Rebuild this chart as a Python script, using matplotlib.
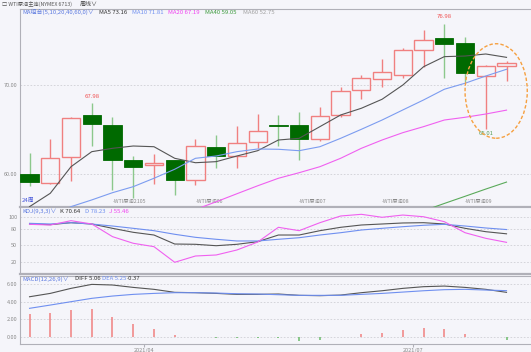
'''
WTI crude weekly chart with MA, KDJ and MACD panels
'''
import numpy as np
import matplotlib.pyplot as plt
from matplotlib.patches import Rectangle, Ellipse
import matplotlib.transforms as mtransforms

plt.rcParams['font.family'] = ['Noto Sans CJK SC', 'DejaVu Sans']

nan = np.nan

# weekly candles
opens = [60.0, 58.9, 61.9, 66.6, 65.5, 61.5, 60.95, 61.5, 59.3, 63.0, 62.0, 63.6,
         65.55, 65.5, 63.9, 66.6, 69.5, 70.7, 71.2, 74.0, 75.3, 74.75, 71.05, 72.2]
closes = [59.05, 61.75, 66.3, 65.6, 61.5, 60.8, 61.25, 59.3, 63.1, 62.0, 63.45, 64.8,
          65.45, 63.9, 66.55, 69.35, 70.8, 71.45, 74.0, 75.1, 74.65, 71.4, 72.2, 72.5]
highs = [62.3, 63.9, 66.4, 67.98, 66.4, 62.0, 62.2, 61.5, 63.9, 64.4, 65.4, 66.75,
         66.6, 67.0, 67.5, 69.8, 71.2, 72.95, 74.2, 76.3, 76.98, 75.5, 72.3, 72.7]
lows = [58.6, 58.8, 59.2, 63.1, 58.2, 57.2, 58.8, 57.6, 58.7, 60.6, 60.6, 62.9,
        63.1, 61.5, 63.7, 66.4, 68.45, 69.8, 70.8, 72.1, 70.8, 70.4, 65.01, 70.5]

ma5 = [56.27, 57.78, 60.79, 62.49, 62.87, 63.13, 63.05, 61.74, 61.24, 61.36, 62.0, 62.6,
       63.81, 64.0, 65.32, 66.64, 67.4, 68.42, 70.03, 72.1, 73.24, 73.31, 73.54, 73.16]
ma10 = [nan, 55.0, 56.27, 57.03, 57.85, 58.53, 59.48, 60.5, 61.74, 62.0, 62.49, 62.79,
        62.76, 62.6, 63.05, 64.0, 65.02, 66.07, 67.21, 68.34, 69.55, 70.23, 71.05, 71.81]
ma20 = [nan] * 8 + [55.95, 56.82, 57.73, 58.63, 59.48, 60.11, 60.79, 61.74, 62.87,
                    63.81, 64.64, 65.32, 66.07, 66.38, 66.75, 67.19]
ma40 = [nan] * 19 + [55.8, 56.63, 57.44, 58.26, 59.05]

k_vals = [88.1, 86.9, 90.4, 88.1, 80.4, 73.3, 68.5, 52.5, 52.0, 49.5, 52.0, 56.6,
          68.5, 68.5, 76.2, 82.2, 86.3, 88.1, 89.9, 90.4, 88.1, 80.4, 74.4, 70.64]
d_vals = [89.3, 88.1, 90.4, 88.0, 84.5, 80.4, 76.2, 69.8, 64.4, 60.9, 57.9, 57.9,
          60.9, 63.7, 68.5, 72.6, 77.4, 80.4, 83.3, 85.8, 87.5, 84.5, 81.0, 78.23]
j_vals = [87.5, 86.3, 94.0, 88.1, 65.6, 53.8, 47.8, 20.0, 31.2, 33.0, 41.9, 56.0,
          82.2, 76.2, 90.4, 102.3, 105.3, 100.0, 104.0, 101.0, 92.2, 72.6, 62.6, 55.46]

diff_vals = [4.56, 4.94, 5.51, 5.96, 5.89, 5.62, 5.4, 5.06, 5.02, 4.94, 4.83, 4.83,
             4.87, 4.72, 4.68, 4.75, 5.02, 5.24, 5.51, 5.7, 5.77, 5.62, 5.4, 5.06]
dea_vals = [3.25, 3.62, 4.0, 4.38, 4.64, 4.83, 4.94, 5.02, 5.02, 4.98, 4.9, 4.87,
            4.79, 4.72, 4.72, 4.72, 4.83, 4.94, 5.09, 5.24, 5.36, 5.4, 5.32, 5.25]
macd_hist = [2.6, 2.75, 3.06, 3.13, 2.3, 1.47, 0.87, 0.26, 0.02, -0.1, -0.15, -0.12,
             -0.1, -0.4, -0.3, -0.02, 0.3, 0.5, 0.8, 1.05, 0.9, 0.3, 0.02, -0.37]

contract_idx = [4, 8, 13, 17, 21]
contract_labels = ['-WTI原油2105', '-WTI原油06', '-WTI原油07', '-WTI原油08', '-WTI原油09']
date_pos = [5.5, 18.5]
date_labels = ['2021/04', '2021/07']

BG = '#F5F5FA'
RED = '#F08080'
GREEN = '#006A00'
GREEN_WICK = '#8CC88C'
GRID = '#CFCFD6'
AXC = '#B0B0B8'
TXT = '#8A8A8A'

x = np.arange(len(opens))

fig = plt.figure(figsize=(5.31, 3.52), dpi=100, facecolor=BG)
ax1 = fig.add_axes([20 / 531, 1 - 207 / 352, 511 / 531, 198 / 352], facecolor=BG)
ax2 = fig.add_axes([20 / 531, 1 - 274 / 352, 511 / 531, 67 / 352], facecolor=BG)
ax3 = fig.add_axes([20 / 531, 1 - 344 / 352, 511 / 531, 68 / 352], facecolor=BG)

for ax in (ax1, ax2, ax3):
    ax.set_xlim(-0.46, 24.18)
    for s in ('right',):
        ax.spines[s].set_visible(False)
    for s in ('left', 'top', 'bottom'):
        ax.spines[s].set_color(AXC)
        ax.spines[s].set_linewidth(0.8)
    ax.tick_params(axis='y', length=0, labelsize=4, labelcolor=TXT, pad=2)
    ax.tick_params(axis='x', length=0)
    ax.set_xticks([])
ax1.spines['bottom'].set_linewidth(1.6)
ax2.spines['bottom'].set_linewidth(1.6)

# candles
w = 0.88
for i in range(len(opens)):
    o, c, h, l = opens[i], closes[i], highs[i], lows[i]
    top, bot = max(o, c), min(o, c)
    if c >= o:
        ax1.vlines(i, top, h, color=RED, lw=1, zorder=2)
        ax1.vlines(i, l, bot, color=RED, lw=1, zorder=2)
        ax1.add_patch(Rectangle((i - w / 2, bot), w, max(top - bot, 0.08),
                                facecolor='none', edgecolor=RED, lw=1, zorder=3))
    else:
        ax1.vlines(i, l, h, color=GREEN_WICK, lw=1, zorder=2)
        ax1.add_patch(Rectangle((i - w / 2, bot), w, max(top - bot, 0.1),
                                facecolor=GREEN, edgecolor=GREEN, lw=0.6, zorder=3))

ax1.plot(x, ma5, color='#555555', lw=0.8, zorder=4)
ax1.plot(x, ma10, color='#7C9CF0', lw=0.8, zorder=4)
ax1.plot(x, ma20, color='#F060F0', lw=0.8, zorder=4)
ax1.plot(x, ma40, color='#5AAA5A', lw=0.8, zorder=4)
ax1.set_ylim(56.23, 78.63)
ax1.set_yticks([60, 70])
ax1.set_yticklabels(['60.00', '70.00'])
for v in (60, 70):
    ax1.axhline(v, color=GRID, lw=0.6, ls=(0, (2, 2)), zorder=1)

# high / low marks
hi = int(np.argmax(highs[:8]))
ax1.annotate(f'{highs[hi]:.2f}', (hi, highs[hi]), xytext=(0, 3), textcoords='offset points',
             ha='center', va='bottom', fontsize=4.3, color='#F05050')
hi2 = int(np.argmax(highs))
ax1.annotate(f'{highs[hi2]:.2f}', (hi2, highs[hi2]), xytext=(0, 3), textcoords='offset points',
             ha='center', va='bottom', fontsize=4.3, color='#F05050')
lo = len(lows) - 2
ax1.annotate(f'{lows[lo]:.2f}', (lo, lows[lo]), xytext=(0, -1), textcoords='offset points',
             ha='center', va='top', fontsize=4.3, color='#5AA05A')

# highlight ellipse around the last two weeks
yc = (max(highs[-2:]) + min(lows[-2:])) / 2 + 0.5
hgt = max(highs[-2:]) - min(lows[-2:]) + 3
ax1.add_patch(Ellipse((len(x) - 1.5, yc), 3.0, hgt, fill=False, edgecolor='#F5A040',
                      lw=1, ls=(0, (2.5, 1.5)), zorder=6))

trans = mtransforms.blended_transform_factory(ax1.transData, ax1.transAxes)
for i, lab in zip(contract_idx, contract_labels):
    ax1.text(i, 0.03, lab, transform=trans, fontsize=3.8, color=TXT, va='center', ha='left')
ax1.text(0.003, 0.035, '24周', transform=ax1.transAxes, fontsize=4.3, color='#4A5ADA', va='center')

# title and legend rows
fig.text(0.004, 1 - 4 / 352, '□ WTI原油主连(NYMEX 6713)', fontsize=3.8, color='#555555', va='center')
fig.text(80 / 531, 1 - 4 / 352, '周线∨', fontsize=4.3, color='#444444', va='center')
legend_main = [('MA组合(5,10,20,40,60,0)∨', '#5A78E0', 22), ('MA5 73.16', '#333333', 99),
               ('MA10 71.81', '#6F8FF0', 132), ('MA20 67.19', '#F040F0', 168),
               ('MA40 59.05', '#3A9A3A', 205), ('MA60 52.75', '#A0A0A0', 243)]
for t, col, px in legend_main:
    fig.text(px / 531, 1 - 12 / 352, t, fontsize=4.3, color=col, va='center')

# KDJ
ax2.plot(x, k_vals, color='#555555', lw=0.8)
ax2.plot(x, d_vals, color='#6F8FF0', lw=0.8)
ax2.plot(x, j_vals, color='#F060F0', lw=0.8)
ax2.set_ylim(-0.8, 118.3)
ax2.set_yticks([20, 50, 80, 100])
ax2.set_yticklabels(['20', '50', '80', '100'])
for v in (20, 50, 80, 100):
    ax2.axhline(v, color=GRID, lw=0.6, ls=(0, (2, 2)), zorder=0)
legend_kdj = [('KDJ(9,3,3)∨', '#5A78E0', 22), ('K 70.64', '#333333', 60),
              ('D 78.23', '#6F8FF0', 85), ('J 55.46', '#F040F0', 109)]
for t, col, px in legend_kdj:
    fig.text(px / 531, 1 - 211 / 352, t, fontsize=4.3, color=col, va='center')

# MACD
bar_cols = [RED if v >= 0 else '#6ABB6A' for v in macd_hist]
ax3.vlines(x, 0, macd_hist, colors=bar_cols, lw=1.1)
ax3.plot(x, diff_vals, color='#555555', lw=0.8)
ax3.plot(x, dea_vals, color='#6F8FF0', lw=0.8)
ax3.set_ylim(-0.79, 6.91)
ax3.set_yticks([0, 2, 4, 6])
ax3.set_yticklabels(['0.00', '2.00', '4.00', '6.00'])
for v in (0, 2, 4, 6):
    ax3.axhline(v, color=GRID, lw=0.6, ls=(0, (2, 2)), zorder=0)
ax3.set_xticks(date_pos)
ax3.set_xticklabels(date_labels)
ax3.tick_params(axis='x', length=2, color=AXC, labelsize=4, labelcolor=TXT, pad=1)
legend_macd = [('MACD(12,26,9)∨', '#5A78E0', 22), ('DIFF 5.06', '#333333', 75),
               ('DEA 5.25', '#6F8FF0', 102), ('-0.37', '#333333', 127)]
for t, col, px in legend_macd:
    fig.text(px / 531, 1 - 279 / 352, t, fontsize=4.3, color=col, va='center')

fig.savefig('out.png', dpi=100, facecolor=BG)
